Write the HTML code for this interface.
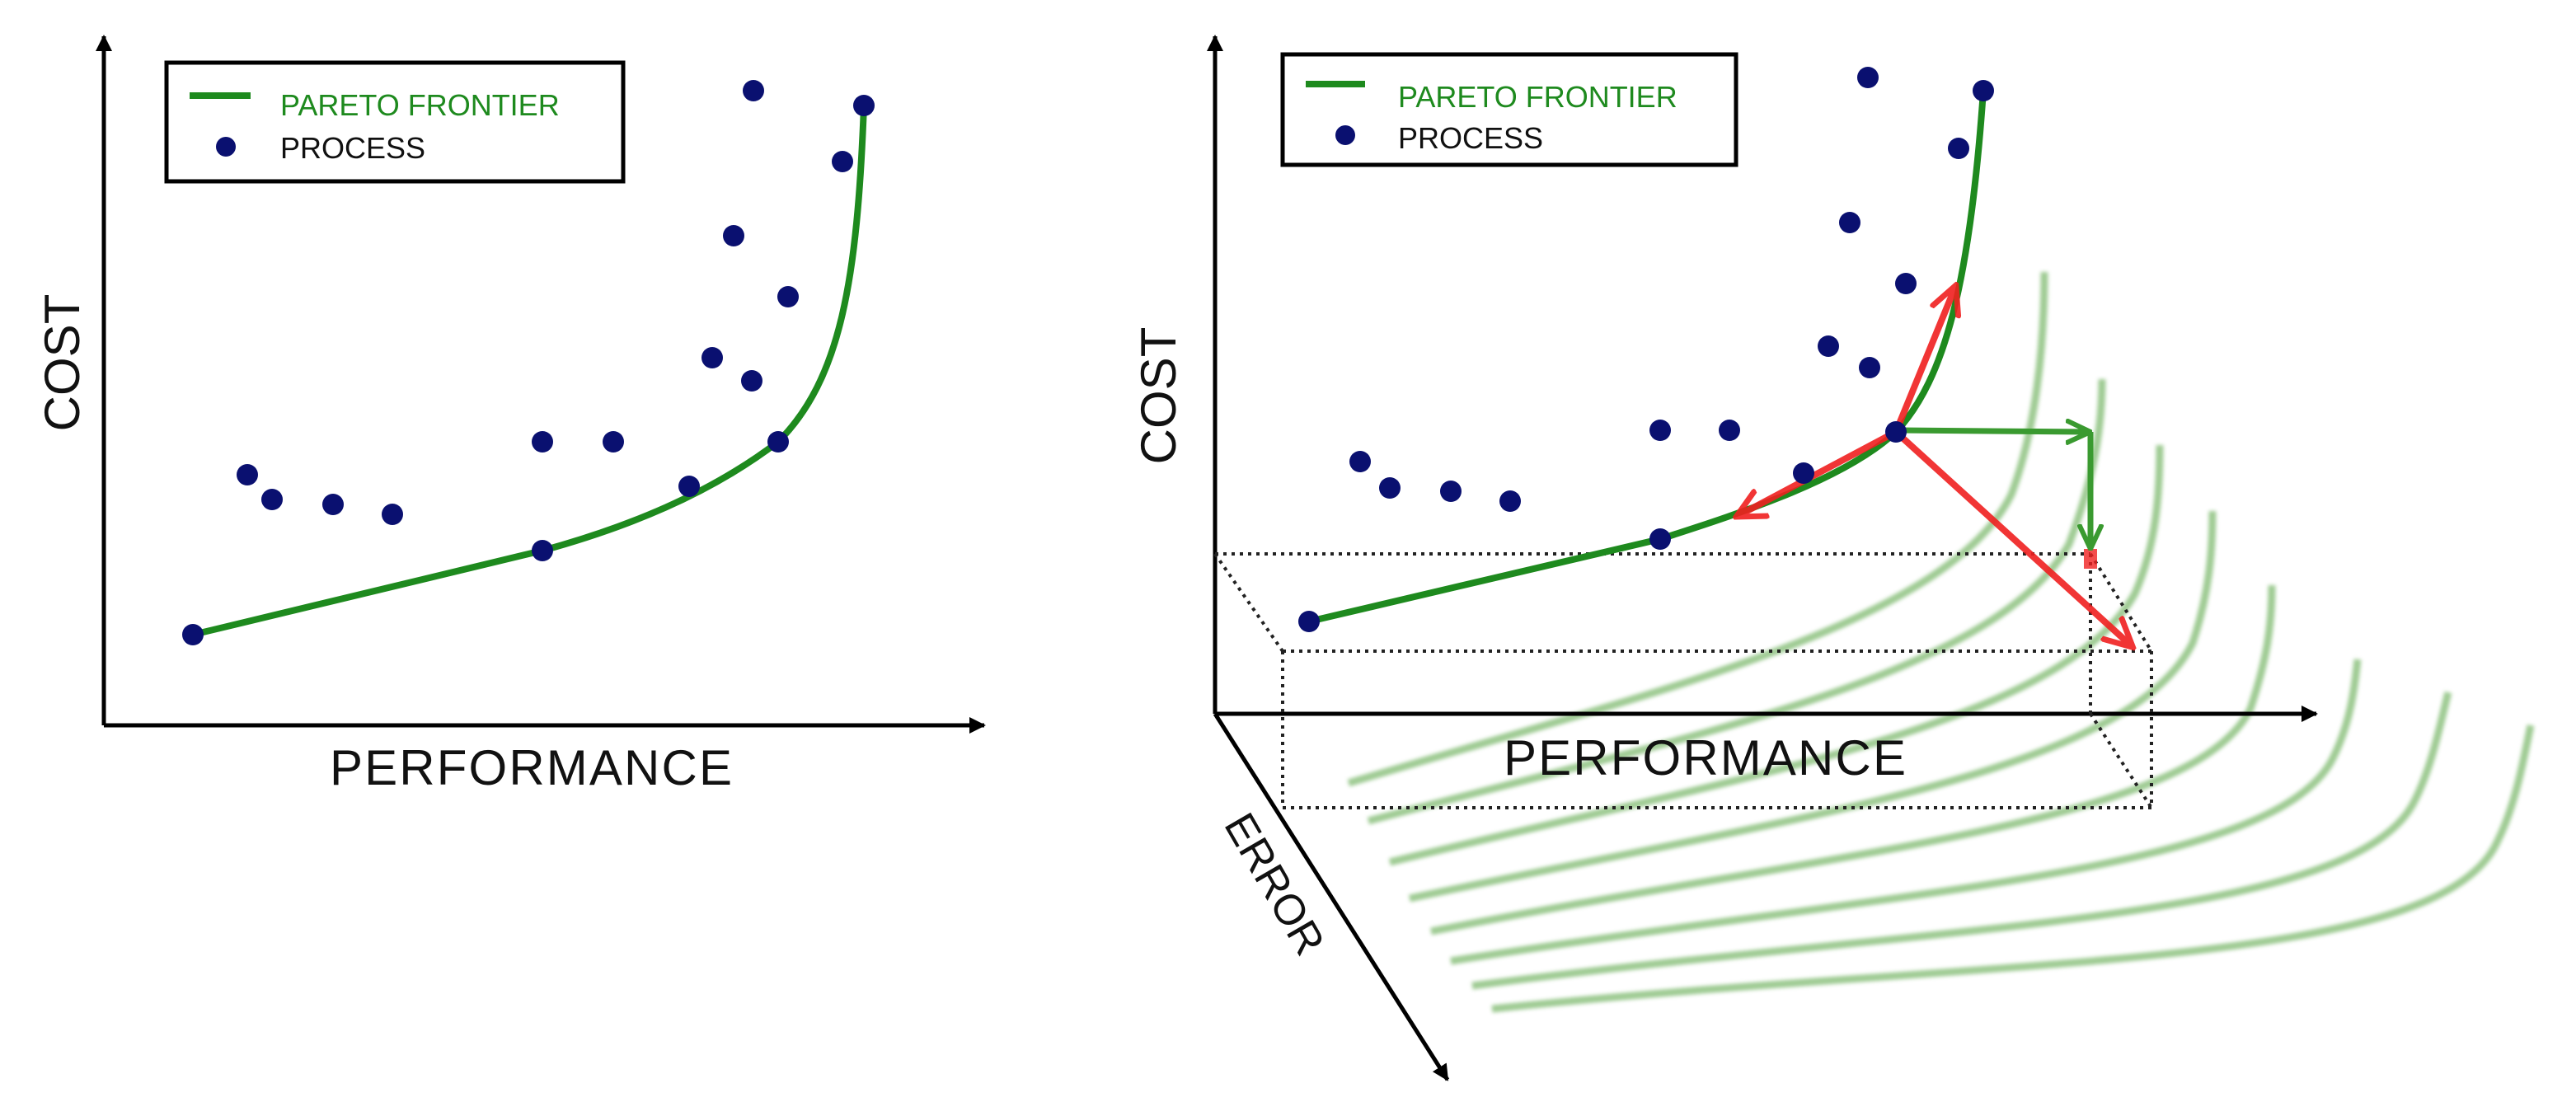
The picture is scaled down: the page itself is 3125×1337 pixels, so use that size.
<!DOCTYPE html>
<html><head><meta charset="utf-8"><style>html,body{margin:0;padding:0;background:#fff}svg{display:block}</style></head>
<body>
<svg width="3125" height="1337" viewBox="0 0 1562.5 668.5" xmlns="http://www.w3.org/2000/svg" font-family="Liberation Sans, sans-serif">
<defs>
<marker id="ab" markerWidth="10" markerHeight="10" refX="9" refY="5" orient="auto" markerUnits="userSpaceOnUse"><path d="M0,0 L10,5 L0,10 Z" fill="#000"/></marker>
<marker id="ar" markerWidth="20" markerHeight="20" refX="17" refY="10" orient="auto" markerUnits="userSpaceOnUse"><path d="M0,1 L18,10 L0,19" fill="none" stroke="#f02020" stroke-width="3.5"/></marker>
<marker id="ag" markerWidth="16" markerHeight="16" refX="14" refY="8" orient="auto" markerUnits="userSpaceOnUse"><path d="M0,1 L15,8 L0,15" fill="none" stroke="#3a9a30" stroke-width="3"/></marker>
<filter id="bl"><feGaussianBlur stdDeviation="1.2"/></filter>
</defs>
<!-- LEFT CHART -->
<line x1="63" y1="440" x2="63" y2="22" stroke="#000" stroke-width="2.5" marker-end="url(#ab)"/>
<line x1="63" y1="440" x2="597" y2="440" stroke="#000" stroke-width="2.5" marker-end="url(#ab)"/>
<rect x="101" y="38" width="277" height="72" fill="#fff" stroke="#000" stroke-width="2.5"/>
<line x1="115" y1="58" x2="152" y2="58" stroke="#1e8a1e" stroke-width="4"/>
<text x="170" y="70" font-size="18" fill="#1e8a1e">PARETO FRONTIER</text>
<circle cx="137" cy="89" r="6" fill="#0a1070"/>
<text x="170" y="96" font-size="18" fill="#111">PROCESS</text>
<text transform="translate(48,220) rotate(-90)" font-size="30" text-anchor="middle" fill="#111">COST</text>
<text x="200" y="476" font-size="30" fill="#111" textLength="244">PERFORMANCE</text>
<path d="M117,385 L329,334 C380,320 430,300 472,268 C510,230 520,170 524,64" fill="none" stroke="#1e8a1e" stroke-width="4"/>
<g fill="#0a1070">
<circle cx="117" cy="385" r="6.5"/><circle cx="150" cy="288" r="6.5"/><circle cx="165" cy="303" r="6.5"/><circle cx="202" cy="306" r="6.5"/><circle cx="238" cy="312" r="6.5"/><circle cx="329" cy="268" r="6.5"/><circle cx="372" cy="268" r="6.5"/><circle cx="329" cy="334" r="6.5"/><circle cx="418" cy="295" r="6.5"/><circle cx="432" cy="217" r="6.5"/><circle cx="445" cy="143" r="6.5"/><circle cx="456" cy="231" r="6.5"/><circle cx="457" cy="55" r="6.5"/><circle cx="478" cy="180" r="6.5"/><circle cx="472" cy="268" r="6.5"/><circle cx="511" cy="98" r="6.5"/><circle cx="524" cy="64" r="6.5"/>
</g>
<!-- RIGHT CHART -->
<g fill="none" stroke="#7fba70" stroke-width="4.5" opacity="0.75" filter="url(#bl)">
<path d="M818,475 C1000,420 1180,380 1220,300 C1235,260 1240,210 1240,165"/>
<path d="M830,498 C1030,445 1210,410 1255,330 C1270,290 1275,260 1275,230"/>
<path d="M843,523 C1060,470 1250,440 1295,360 C1308,330 1310,300 1310,270"/>
<path d="M855,545 C1090,495 1290,470 1330,390 C1340,360 1342,335 1342,310"/>
<path d="M868,565 C1120,515 1330,500 1365,430 C1375,400 1378,380 1378,355"/>
<path d="M880,583 C1150,540 1380,530 1415,460 C1425,440 1428,420 1430,400"/>
<path d="M893,598 C1180,560 1430,560 1465,485 C1475,465 1480,440 1485,420"/>
<path d="M905,612 C1210,580 1480,590 1515,510 C1525,490 1530,465 1535,440"/>
</g>
<line x1="737" y1="433" x2="737" y2="22" stroke="#000" stroke-width="2.5" marker-end="url(#ab)"/>
<line x1="737" y1="433" x2="1405" y2="433" stroke="#000" stroke-width="2.5" marker-end="url(#ab)"/>
<line x1="737" y1="433" x2="878" y2="655" stroke="#000" stroke-width="2.5" marker-end="url(#ab)"/>
<g fill="none" stroke="#222" stroke-width="2" stroke-dasharray="2,3">
<line x1="737" y1="336" x2="1268" y2="336"/>
<line x1="778" y1="395" x2="1305" y2="395"/>
<line x1="778" y1="490" x2="1305" y2="490"/>
<line x1="737" y1="336" x2="778" y2="395"/>
<line x1="1268" y1="336" x2="1305" y2="395"/>
<line x1="1268" y1="433" x2="1305" y2="490"/>
<line x1="778" y1="395" x2="778" y2="490"/>
<line x1="1305" y1="395" x2="1305" y2="490"/>
<line x1="1268" y1="336" x2="1268" y2="433"/>
</g>
<rect x="778" y="33" width="275" height="67" fill="#fff" stroke="#000" stroke-width="2.5"/>
<line x1="792" y1="51" x2="828" y2="51" stroke="#1e8a1e" stroke-width="4"/>
<text x="848" y="65" font-size="18" fill="#1e8a1e">PARETO FRONTIER</text>
<circle cx="816" cy="82" r="6" fill="#0a1070"/>
<text x="848" y="90" font-size="18" fill="#111">PROCESS</text>
<text transform="translate(713,240) rotate(-90)" font-size="30" text-anchor="middle" fill="#111">COST</text>
<text x="912" y="470" font-size="30" fill="#111" textLength="244">PERFORMANCE</text>
<text transform="translate(742,500) rotate(60)" font-size="26" fill="#111">ERROR</text>
<path d="M794,377 L1007,327 C1060,310 1120,290 1150,262 C1180,230 1195,170 1203,55" fill="none" stroke="#1e8a1e" stroke-width="4"/>
<g stroke="#f02020" stroke-width="4" fill="none" opacity="0.9">
<line x1="1150" y1="262" x2="1186" y2="174" marker-end="url(#ar)"/>
<line x1="1150" y1="262" x2="1054" y2="313" marker-end="url(#ar)"/>
<line x1="1150" y1="262" x2="1293" y2="392" marker-end="url(#ar)"/>
</g>
<rect x="1264" y="333" width="8" height="12" fill="#f02020" opacity="0.8"/>
<g stroke="#3a9a30" stroke-width="3.5" fill="none">
<line x1="1152" y1="261" x2="1267" y2="262" marker-end="url(#ag)"/>
<line x1="1268" y1="262" x2="1268" y2="332" marker-end="url(#ag)"/>
</g>
<g fill="#0a1070">
<circle cx="794" cy="377" r="6.5"/><circle cx="825" cy="280" r="6.5"/><circle cx="843" cy="296" r="6.5"/><circle cx="880" cy="298" r="6.5"/><circle cx="916" cy="304" r="6.5"/><circle cx="1007" cy="261" r="6.5"/><circle cx="1049" cy="261" r="6.5"/><circle cx="1007" cy="327" r="6.5"/><circle cx="1094" cy="287" r="6.5"/><circle cx="1109" cy="210" r="6.5"/><circle cx="1122" cy="135" r="6.5"/><circle cx="1134" cy="223" r="6.5"/><circle cx="1133" cy="47" r="6.5"/><circle cx="1156" cy="172" r="6.5"/><circle cx="1150" cy="262" r="6.5"/><circle cx="1188" cy="90" r="6.5"/><circle cx="1203" cy="55" r="6.5"/>
</g>
</svg>
</body></html>
